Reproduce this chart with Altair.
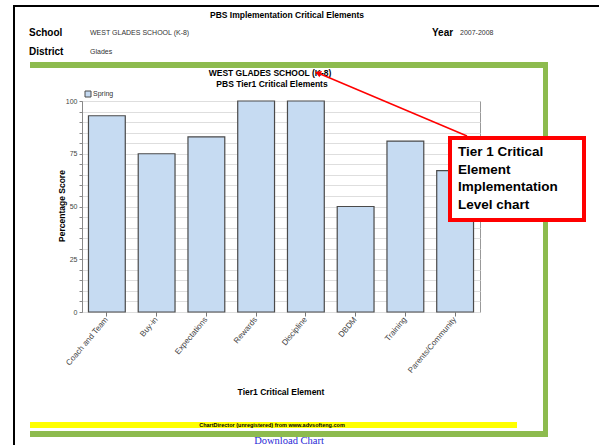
import altair as alt
import pandas as pd

# Tier 1 critical elements and the Spring percentage score of each
elements = ["Coach and Team", "Buy-in", "Expectations", "Rewards",
            "Discipline", "DBDM", "Training", "Parents/Community"]
spring_scores = [93, 75, 83, 100, 100, 50, 81, 67]
y_grid_values = list(range(0, 101, 5))

report_title = "PBS Implementation Critical Elements"
school_name = "WEST GLADES SCHOOL (K-8)"
district_name = "Glades"
school_year = "2007-2008"
chart_titles = ["WEST GLADES SCHOOL (K-8)", "PBS Tier1 Critical Elements"]
series_name = "Spring"
x_title = "Tier1 Critical Element"
y_title = "Percentage Score"
callout_text = "Tier 1 Critical\nElement\nImplementation\nLevel chart"
watermark = "ChartDirector (unregistered) from www.advsofteng.com"
link_text = "Download Chart"

SANS = "Liberation Sans"
SERIF = "Liberation Serif"

# page coordinates are given relative to the plot origin
X0, Y0 = 82, 101
PLOT_W, PLOT_H = 398, 211
PAGE_W, PAGE_H = 599, 445

one_row = pd.DataFrame({"k": [0]})


def box(x1, y1, x2, y2, **kw):
    return alt.Chart(one_row).mark_rect(**kw).encode(
        x=alt.value(x1 - X0), x2=alt.value(x2 - X0),
        y=alt.value(y1 - Y0), y2=alt.value(y2 - Y0))


def label(txt, x, y, size, weight="normal", align="left", color="#000000",
          font=SANS, angle=0, baseline="middle", **kw):
    return alt.Chart(pd.DataFrame({"t": [txt]})).mark_text(
        fontSize=size, fontWeight=weight, align=align, baseline=baseline,
        color=color, font=font, angle=angle, **kw).encode(
        text="t:N", x=alt.value(x - X0), y=alt.value(y - Y0))


# page frame and panel bands
page_border_top = box(13, 5, PAGE_W, 7, color="#000000")
page_border_left = box(13, 5, 15, PAGE_H, color="#000000")
green = "#8dbb4e"
panel_top = box(30, 62, 548, 68, color=green)
panel_right = box(543, 62, 548, 437, color=green)
panel_bottom = box(30, 431, 548, 437, color=green)
yellow_band = box(30, 422, 517, 428, color="#ffff00")

header = [
    label(report_title, 287, 15, 8.5, weight="bold", align="center"),
    label("School", 29, 33, 10, weight="bold"),
    label(school_name, 90, 33, 7, color="#333333"),
    label("Year", 432, 33, 10, weight="bold"),
    label(school_year, 460, 33, 7, color="#333333"),
    label("District", 29, 52, 10, weight="bold"),
    label(district_name, 90, 52, 7, color="#333333"),
    label(chart_titles[0], 270, 73, 8.5, weight="bold", align="center"),
    label(chart_titles[1], 272, 84, 8.5, weight="bold", align="center"),
    label(x_title, 281, 392, 8.5, weight="bold", align="center"),
    label(y_title, 62, 206, 8.5, weight="bold", align="center", angle=270),
    label(series_name, 93, 94, 7, color="#333333"),
    label(watermark, 272, 425, 5.5, weight="bold", align="center"),
    label(link_text, 289, 444, 10.5, align="center", color="#2a2ad6",
          font=SERIF, baseline="alphabetic"),
]
legend_swatch = box(85, 91, 91, 97, fill="#c4d9f1", stroke="#4a4a4a",
                    strokeWidth=1)

bar_df = pd.DataFrame({"element": elements, "score": spring_scores})

bars = alt.Chart(bar_df).mark_bar(
    fill="#c6dbf2", stroke="#4a4a4a", strokeWidth=1.2
).encode(
    x=alt.X("element:N", sort=elements,
            scale=alt.Scale(paddingInner=0.26, paddingOuter=0.13),
            axis=alt.Axis(title=None, labelAngle=-50, labelAlign="right",
                          labelBaseline="middle", labelFontSize=8,
                          labelColor="#444444", labelFont=SANS,
                          tickSize=4, tickColor="#777777", domain=False,
                          labelPadding=2, grid=False)),
    y=alt.Y("score:Q", scale=alt.Scale(domain=[0, 100], nice=False),
            axis=alt.Axis(title=None, values=y_grid_values,
                          labelExpr="datum.value % 25 == 0 ? datum.label : ''",
                          labelFontSize=7, labelColor="#444444",
                          labelFont=SANS, tickSize=3, tickColor="#888888",
                          domainColor="#888888", gridColor="#dedede",
                          labelPadding=2)),
)

# callout with arrow to the chart title
arrow_line = alt.Chart(one_row).mark_rule(color="#ff0000", strokeWidth=1.5).encode(
    x=alt.value(467 - X0), y=alt.value(136 - Y0),
    x2=alt.value(318 - X0), y2=alt.value(73 - Y0))
arrow_head = alt.Chart(one_row).mark_point(
    shape="triangle-up", filled=True, color="#ff0000", size=45,
    angle=292, opacity=1
).encode(x=alt.value(318 - X0), y=alt.value(73 - Y0))
callout_box = box(450, 138, 584, 220, fill="#ffffff", stroke="#ff0000",
                  strokeWidth=4)
callout_label = label(callout_text, 458, 145, 13.5, weight="bold",
                      baseline="top", lineBreak="\n", lineHeight=17.5)

chart = alt.layer(
    page_border_top, page_border_left, panel_top, panel_right, panel_bottom,
    yellow_band, *header, legend_swatch, bars,
    arrow_line, arrow_head, callout_box, callout_label
).properties(
    width=PLOT_W, height=PLOT_H,
    padding={"left": X0, "top": Y0,
             "right": PAGE_W - X0 - PLOT_W, "bottom": PAGE_H - Y0 - PLOT_H},
    autosize=alt.AutoSizeParams(type="none"),
    background="#ffffff",
).configure_view(stroke="#999999", strokeWidth=1)

chart.save("out.html", embed_options={"renderer": "svg", "actions": False})
